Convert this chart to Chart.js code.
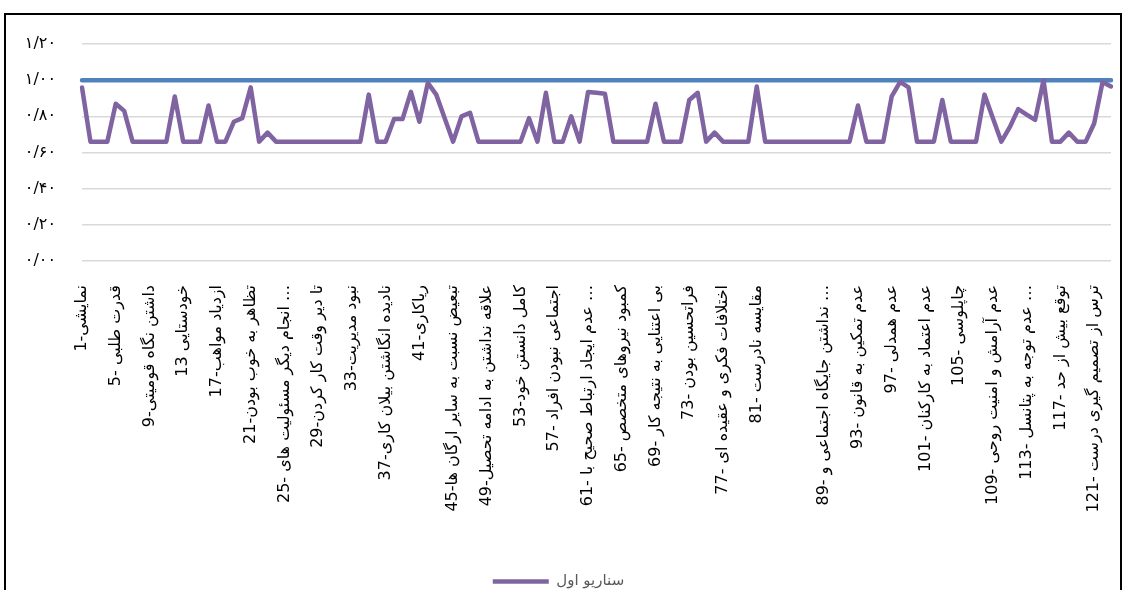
<!DOCTYPE html>
<html>
<head>
<meta charset="utf-8">
<script src="https://cdn.jsdelivr.net/npm/chart.js@4"></script>
<style>
  html, body { margin: 0; padding: 0; background: #fff; width: 1124px; height: 590px; overflow: hidden; }
  #frame {
    position: absolute; left: 4px; top: 13px; width: 1114px; height: 584px;
    border-left: 2px solid #000; border-top: 2px solid #000; border-right: 2px solid #000;
    background: #fff;
  }
  #frame canvas { display: block; }
</style>
</head>
<body>
<div id="frame"><canvas id="chart-scenario" width="1114" height="584"></canvas></div>
<script>
// برچسب های نمایش داده شده روی محور افقی (هر چهار دسته یکی)
const tickLabels = [
    '1-نمایشی',
    '5- قدرت طلبی',
    '9-داشتن نگاه قومیتی',
    '13 خودستایی',
    '17-ازدیاد مواهب',
    '21-تظاهر به خوب بودن',
    '25- انجام دیگر مسئولیت های …',
    '29-تا دیر وقت کار کردن',
    '33-نبود مدیریت',
    '37-نادیده انگاشتن بیلان کاری',
    '41-ریاکاری',
    '45-تبعیض نسبت به سایر ارگان ها',
    '49-علاقه نداشتن به ادامه تحصیل',
    '53-کامل دانستن خود',
    '57- اجتماعی نبودن افراد',
    '61- عدم ایجاد ارتباط صحیح با …',
    '65- کمبود نیروهای متخصص',
    '69- بی اعتنایی به نتیجه کار',
    '73- فراتحسین بودن',
    '77- اختلافات فکری و عقیده ای',
    '81- مقایسه نادرست',
    '',
    '89- نداشتن جایگاه اجتماعی و …',
    '93- عدم تمکین به قانون',
    '97- عدم همدلی',
    '101- عدم اعتماد به کارکنان',
    '105- چاپلوسی',
    '109- عدم آرامش و امنیت روحی',
    '113- عدم توجه به پتانسل …',
    '117- توقع بیش از حد',
    '121- ترس از تصمیم گیری درست'
];

// برچسب های محور عمودی
const yTickLabels = ['۰/۰۰', '۰/۲۰', '۰/۴۰', '۰/۶۰', '۰/۸۰', '۱/۰۰', '۱/۲۰'];

// سناریو اول (بنفش)
const scenario1 = [
    0.96, 0.66, 0.66, 0.66, 0.87, 0.83, 0.66, 0.66, 0.66, 0.66,
    0.66, 0.91, 0.66, 0.66, 0.66, 0.86, 0.66, 0.66, 0.77, 0.79,
    0.96, 0.66, 0.71, 0.66, 0.66, 0.66, 0.66, 0.66, 0.66, 0.66,
    0.66, 0.66, 0.66, 0.66, 0.92, 0.66, 0.66, 0.785, 0.785, 0.935,
    0.77, 0.985, 0.92, 0.79, 0.66, 0.80, 0.82, 0.66, 0.66, 0.66,
    0.66, 0.66, 0.66, 0.79, 0.66, 0.93, 0.66, 0.66, 0.80, 0.66,
    0.935, 0.93, 0.925, 0.66, 0.66, 0.66, 0.66, 0.66, 0.87, 0.66,
    0.66, 0.66, 0.89, 0.93, 0.66, 0.71, 0.66, 0.66, 0.66, 0.66,
    0.965, 0.66, 0.66, 0.66, 0.66, 0.66, 0.66, 0.66, 0.66, 0.66,
    0.66, 0.66, 0.86, 0.66, 0.66, 0.66, 0.91, 0.99, 0.96, 0.66,
    0.66, 0.66, 0.89, 0.66, 0.66, 0.66, 0.66, 0.92, 0.79, 0.66,
    0.74, 0.84, 0.81, 0.78, 1.00, 0.66, 0.66, 0.71, 0.66, 0.66,
    0.76, 0.99, 0.965
];

// خط مبنا (آبی)
const baseline = [
    1, 1, 1, 1, 1, 1, 1, 1, 1, 1, 1, 1, 1, 1, 1, 1, 1, 1, 1, 1,
    1, 1, 1, 1, 1, 1, 1, 1, 1, 1, 1, 1, 1, 1, 1, 1, 1, 1, 1, 1,
    1, 1, 1, 1, 1, 1, 1, 1, 1, 1, 1, 1, 1, 1, 1, 1, 1, 1, 1, 1,
    1, 1, 1, 1, 1, 1, 1, 1, 1, 1, 1, 1, 1, 1, 1, 1, 1, 1, 1, 1,
    1, 1, 1, 1, 1, 1, 1, 1, 1, 1, 1, 1, 1, 1, 1, 1, 1, 1, 1, 1,
    1, 1, 1, 1, 1, 1, 1, 1, 1, 1, 1, 1, 1, 1, 1, 1, 1, 1, 1, 1,
    1, 1, 1
];

// دسته ها: شماره هر گویه، با متن برای دسته های نمایش داده شده
const categories = scenario1.map((_, i) => (i % 4 === 0 ? tickLabels[i / 4] : String(i + 1)));

const FONT = "'DejaVu Sans', sans-serif";

new Chart(document.getElementById('chart-scenario'), {
    type: 'line',
    data: {
        labels: categories,
        datasets: [
            {
                label: 'سناریو اول',
                data: scenario1,
                borderColor: '#8064A2',
                backgroundColor: '#8064A2',
                borderWidth: 4.5,
                pointRadius: 0,
                tension: 0,
                borderCapStyle: 'round',
                borderJoinStyle: 'round'
            },
            {
                label: 'مبنا',
                data: baseline,
                borderColor: '#4F81BD',
                backgroundColor: '#4F81BD',
                borderWidth: 4.5,
                pointRadius: 0,
                tension: 0,
                borderCapStyle: 'round'
            }
        ]
    },
    options: {
        responsive: false,
        animation: false,
        layout: { padding: { top: 29, right: 9, left: 0, bottom: 0 } },
        plugins: {
            tooltip: { enabled: false },
            legend: {
                position: 'bottom',
                labels: {
                    filter: item => item.datasetIndex === 0,
                    usePointStyle: true,
                    pointStyle: 'line',
                    pointStyleWidth: 56,
                    color: '#595959',
                    font: { family: FONT, size: 15 },
                    padding: 10
                }
            }
        },
        scales: {
            x: {
                type: 'category',
                offset: false,
                grid: { display: false },
                border: { display: false },
                afterFit: s => {
                    s.height = 303;
                    s.paddingLeft = 0;
                    s.paddingRight = 0;
                },
                ticks: {
                    autoSkip: false,
                    maxRotation: 90,
                    minRotation: 90,
                    padding: 16,
                    color: '#000',
                    font: { family: FONT, size: 16 },
                    callback: (v, i) => (i % 4 === 0 ? categories[i] : '')
                }
            },
            y: {
                min: 0,
                max: 1.2,
                afterFit: s => {
                    s.width = 76;
                    s.paddingTop = 0;
                    s.paddingBottom = 0;
                },
                grid: { color: '#d9d9d9', lineWidth: 1.5, drawTicks: false },
                border: { display: false },
                ticks: {
                    stepSize: 0.2,
                    padding: 26,
                    color: '#000',
                    font: { family: FONT, size: 16 },
                    callback: (v, i) => yTickLabels[i]
                }
            }
        }
    }
});
</script>
</body>
</html>
